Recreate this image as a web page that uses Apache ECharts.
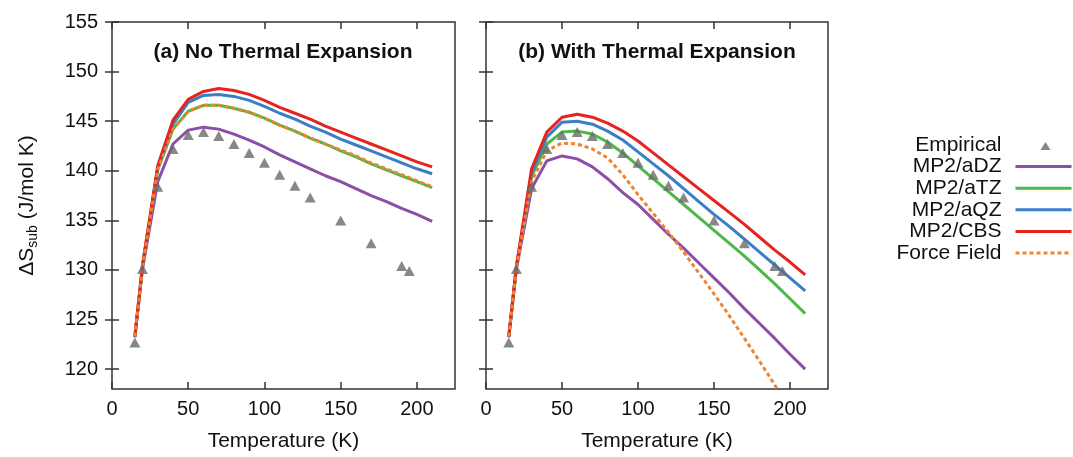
<!DOCTYPE html>
<html>
<head>
<meta charset="utf-8">
<script src="https://cdn.jsdelivr.net/npm/echarts@6/dist/echarts.min.js"></script>
<style>
html,body{margin:0;padding:0;background:#fff;}
#chart{width:1073px;height:457px;}
</style>
</head>
<body>
<div id="chart"></div>
<script>
// ---- data ----
const temps = [15,20,30,40,50,60,70,80,90,100,110,120,130,140,150,160,170,180,190,200,210];
const empT = [15,20,30,40,50,60,70,80,90,100,110,120,130,150,170,190,195];
const empS = [122.7,130.1,138.4,142.2,143.6,143.9,143.5,142.7,141.8,140.8,139.6,138.5,137.3,135.0,132.7,130.4,129.9];

// (a) No thermal expansion
const aDZ_a = [123.2,130.1,138.9,142.7,144.1,144.4,144.2,143.7,143.1,142.4,141.6,140.9,140.2,139.5,138.9,138.2,137.5,136.9,136.2,135.6,134.9];
const aTZ_a = [123.3,130.3,140.1,144.2,146.0,146.6,146.6,146.3,145.9,145.3,144.6,144.0,143.3,142.7,142.0,141.4,140.7,140.1,139.5,138.9,138.3];
const aQZ_a = [123.3,130.4,140.3,144.7,146.9,147.6,147.7,147.5,147.1,146.5,145.8,145.2,144.5,143.9,143.2,142.6,142.0,141.4,140.8,140.2,139.7];
const CBS_a = [123.3,130.5,140.5,145.1,147.2,148.0,148.3,148.1,147.7,147.1,146.4,145.8,145.2,144.5,143.9,143.3,142.7,142.1,141.5,140.9,140.4];
const FF_a  = [123.3,130.3,140.1,144.2,146.0,146.6,146.6,146.3,145.9,145.3,144.6,144.0,143.3,142.7,142.1,141.5,140.8,140.2,139.6,139.0,138.4];

// (b) With thermal expansion
const aDZ_b = [123.2,130.1,138.2,141.0,141.5,141.2,140.4,139.2,137.8,136.6,135.1,133.6,132.2,130.7,129.2,127.7,126.1,124.6,123.1,121.5,120.0];
const aTZ_b = [123.3,130.3,139.4,142.7,143.9,144.0,143.7,142.9,141.8,140.5,139.2,137.9,136.6,135.3,134.0,132.7,131.4,130.0,128.6,127.1,125.6];
const aQZ_b = [123.3,130.3,139.8,143.4,144.9,145.0,144.7,144.0,143.1,141.9,140.7,139.5,138.2,136.9,135.6,134.4,133.1,131.8,130.5,129.2,127.9];
const CBS_b = [123.3,130.4,140.2,143.9,145.4,145.7,145.4,144.8,144.0,143.0,141.8,140.6,139.4,138.2,137.0,135.8,134.6,133.3,132.0,130.8,129.5];
const FF_b  = [123.3,130.3,138.9,142.0,142.8,142.7,142.2,141.3,139.6,137.6,135.7,133.8,131.8,129.7,127.6,125.4,123.1,120.8,118.4,115.8,113.1];

const xTicks = [0,50,100,150,200];
const yTicks = [120,125,130,135,140,145,150,155];
const panelTitles = ['(a) No Thermal Expansion','(b) With Thermal Expansion'];
const names = ['Empirical','MP2/aDZ','MP2/aTZ','MP2/aQZ','MP2/CBS','Force Field'];

// ---- styles ----
const FONT = 'Liberation Sans, Arial, Helvetica, sans-serif';
const colors = {'MP2/aDZ':'#8B4FA8','MP2/aTZ':'#4DB848','MP2/aQZ':'#3A7EC6','MP2/CBS':'#E5231F','Force Field':'#F0832E'};
const AX = '#333';
const EMP_COLOR = '#6A6A6A';
// legend triangle centred in a 56x10 icon box (degenerate subpaths only fix the box size)
const LEGEND_TRI = 'path://M0,0L0,0ZM56,10L56,10ZM25,10L30,2L35,10Z';

const chart = echarts.init(document.getElementById('chart'), null, {renderer:'canvas'});

const grids = [
  {left:112, top:22, width:343, height:370},
  {left:486, top:22, width:342, height:370}
];

function xAx(gi, pos){
  return {type:'value', gridIndex:gi, position:pos, min:0, max:225,
    axisLine:{show:false}, splitLine:{show:false},
    axisTick:{show:true, inside:true, length:7, customValues:xTicks, lineStyle:{color:AX, width:1.5}},
    axisLabel:{show:pos==='bottom', customValues:xTicks, margin:10, fontFamily:FONT, fontSize:20, color:'#111'},
    name: pos==='bottom' ? 'Temperature (K)' : '', nameLocation:'middle', nameGap:42,
    nameTextStyle:{fontFamily:FONT, fontSize:21, color:'#111'}
  };
}
function yAx(gi, pos, labels){
  const o = {type:'value', gridIndex:gi, position:pos, min:118, max:155,
    axisLine:{show:false}, splitLine:{show:false},
    axisTick:{show:true, inside:true, length:7, customValues:yTicks, lineStyle:{color:AX, width:1.5}},
    axisLabel:{show:labels, customValues:yTicks, margin:14, fontFamily:FONT, fontSize:20, color:'#111'}
  };
  if (labels) {
    o.name = '{a|ΔS}{s|sub}{a| (J/mol K)}';
    o.nameLocation = 'middle';
    o.nameGap = 72;
    o.nameTextStyle = {fontFamily:FONT, fontSize:21, color:'#111',
      rich:{a:{fontFamily:FONT, fontSize:21, color:'#111', lineHeight:26, verticalAlign:'middle'},
            s:{fontFamily:FONT, fontSize:14, color:'#111', lineHeight:26, verticalAlign:'bottom', padding:[10,0,0,0]}}};
  }
  return o;
}

const xAxes = [xAx(0,'bottom'), xAx(0,'top'), xAx(1,'bottom'), xAx(1,'top')];
const yAxes = [yAx(0,'left',true), yAx(0,'right',false), yAx(1,'left',false), yAx(1,'right',false)];

function line(name, vals, gi, z){
  const c = colors[name];
  const dashed = name === 'Force Field';
  return {type:'line', name, xAxisIndex:gi*2, yAxisIndex:gi*2,
    data: temps.map((t,i)=>[t, vals[i]]),
    symbol:'none', showSymbol:false, clip:true, z,
    lineStyle:{color:c, width:3, type: dashed ? [4,3] : 'solid', cap:'butt'},
    itemStyle:{color:c}, emphasis:{disabled:true}, animation:false};
}
function emp(gi){
  return {type:'scatter', name:'Empirical', xAxisIndex:gi*2, yAxisIndex:gi*2,
    data: empT.map((t,i)=>[t, empS[i]]),
    symbol:'triangle', symbolSize:[11,10], z:10,
    itemStyle:{color:EMP_COLOR}, emphasis:{disabled:true}, animation:false};
}

const panels = [[aDZ_a,aTZ_a,aQZ_a,CBS_a,FF_a],[aDZ_b,aTZ_b,aQZ_b,CBS_b,FF_b]];
const series = [];
panels.forEach((p,gi)=>{
  series.push(line('MP2/aDZ', p[0], gi, 2));
  series.push(line('MP2/aTZ', p[1], gi, 3));
  series.push(line('MP2/aQZ', p[2], gi, 4));
  series.push(line('MP2/CBS', p[3], gi, 5));
  series.push(line('Force Field', p[4], gi, 6));
  series.push(emp(gi));
});

const legendData = names.map(n => n === 'Empirical'
  ? {name:n, icon:LEGEND_TRI, itemStyle:{color:EMP_COLOR}}
  : {name:n, itemStyle:{opacity:0}, lineStyle:{width:3}});

const option = {
  backgroundColor:'#fff',
  animation:false,
  grid: grids.map(g=>Object.assign({show:true, borderColor:AX, borderWidth:1.5, backgroundColor:'transparent'}, g)),
  xAxis: xAxes,
  yAxis: yAxes,
  legend: {
    data: legendData, orient:'vertical', right:0, top:134.5, align:'right',
    itemWidth:56, itemHeight:10, itemGap:0.6, padding:0, symbolKeepAspect:false,
    selectedMode:false,
    textStyle:{fontFamily:FONT, fontSize:21, lineHeight:21, color:'#111', padding:[0,9,0,0]}
  },
  graphic: [
    {type:'text', x:283, y:52, silent:true, style:{text:panelTitles[0], font:'bold 21px ' + FONT, fill:'#111', textAlign:'center', textVerticalAlign:'middle'}},
    {type:'text', x:657, y:52, silent:true, style:{text:panelTitles[1], font:'bold 21px ' + FONT, fill:'#111', textAlign:'center', textVerticalAlign:'middle'}}
  ],
  series
};
chart.setOption(option);
</script>
</body>
</html>
